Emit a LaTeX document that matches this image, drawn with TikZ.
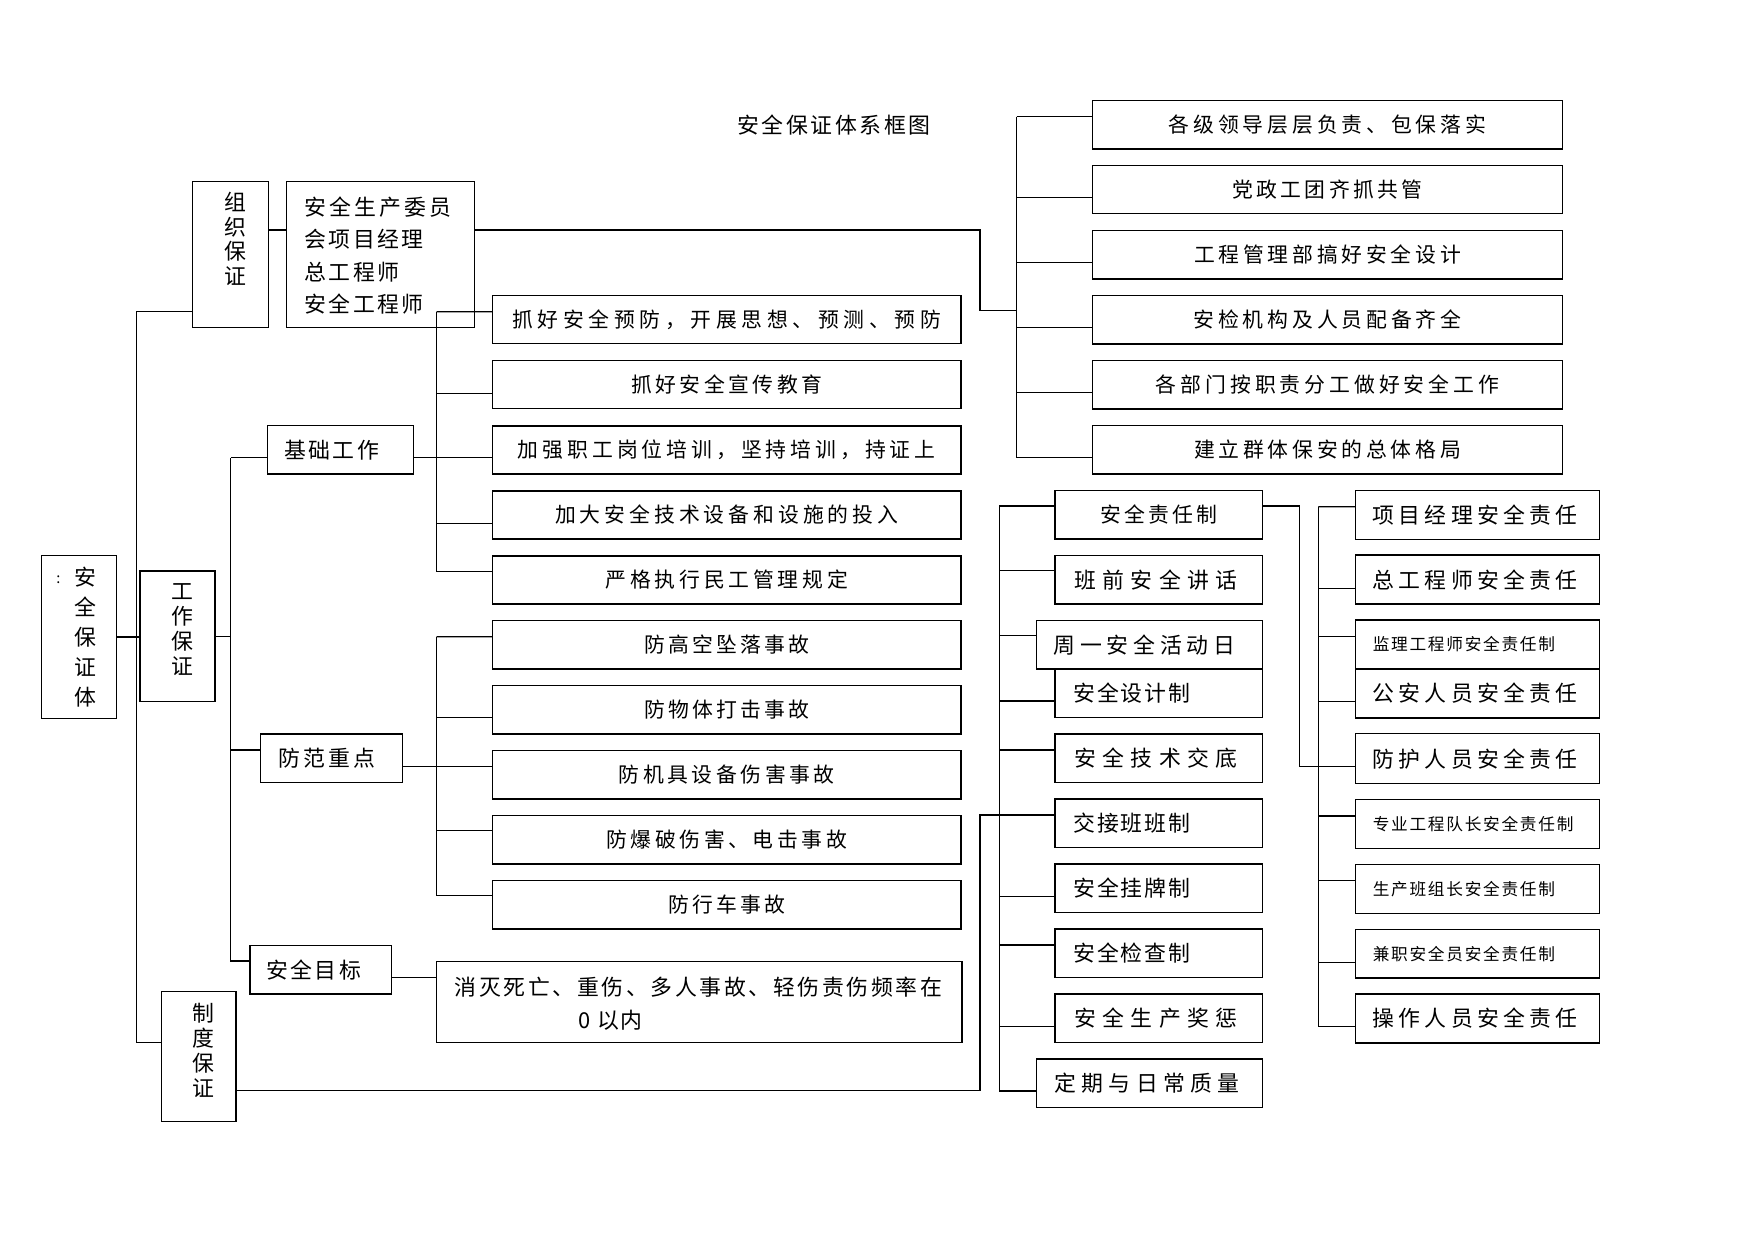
\documentclass[tikz,border=0pt]{standalone}
\usepackage{fontspec}
\setmainfont{Noto Sans CJK SC}
\newlength\pxu
\setlength\pxu{0.48pt}
\makeatletter
\newcommand\spaced[2]{\@tfor\spacedch:=#2\do{\makebox[#1\pxu][c]{\spacedch}}}
\makeatother
\tikzset{
  box/.style={draw, line width=0.75pt, inner sep=0pt},
  sz/.style 2 args={minimum width=#1*0.48pt, minimum height=#2*0.48pt},
  wire/.style={line width=0.55pt},
  txt/.style={inner sep=0pt, font=\fontsize{10.5}{12}\selectfont},
  small/.style={inner sep=0pt, font=\fontsize{8}{9}\selectfont},
  vtxt/.style={inner sep=0pt, align=center, font=\fontsize{10.5}{#1}\selectfont},
}
\begin{document}
\begin{tikzpicture}[x=0.48pt, y=-0.48pt]
\useasboundingbox (0,0) rectangle (1754,1241);
% title
\node[txt] (title) at (834,125) {\spaced{24.5}{安全保证体系框图}};
% left column
\node[box, sz={75}{162.6}] (aqbz) at (79.2,637) {};
\node[inner sep=0pt, font=\fontsize{7}{8}\selectfont] (aqbzc) at (58.3,580) {:};
\node[vtxt=14.4pt] (aqbzt) at (85,636.7) {安\\全\\保\\证\\体};
\node[box, sz={76}{146}] (zzbz) at (230.3,254.7) {};
\node[vtxt=11.76pt] (zzbzt) at (235.7,239) {组\\织\\保\\证};
\node[box, sz={187.6}{146}] (xmjl) at (380.5,254.7) {};
\node[txt, align=left, anchor=west, font=\fontsize{10.5}{15.55}\selectfont] (xmjlt) at (303,255.4)
  {\spaced{25}{安全生产委员}\\\spaced{24.3}{会项目经理}\\\spaced{24.3}{总工程师}\\\spaced{24.3}{安全工程师}};
\node[box, sz={75}{130.3}] (gzbz) at (177.5,636.15) {};
\node[vtxt=12pt] (gzbzt) at (182.3,629.2) {工\\作\\保\\证};
\node[box, sz={74.6}{130}] (zdbz) at (198.7,1056.7) {};
\node[vtxt=12pt] (zdbzt) at (203.3,1050.8) {制\\度\\保\\证};
\node[box, sz={146}{48.3}] (jcgz) at (340.3,449.85) {};
\node[txt, anchor=west] (jcgzt) at (283,449.85) {\spaced{24.2}{基础工作}};
\node[box, sz={141.6}{48.7}] (ffzd) at (331.5,758.35) {};
\node[txt, anchor=west] (ffzdt) at (276.5,758.35) {\spaced{25}{防范重点}};
\node[box, sz={141.8}{48.3}] (aqmb) at (320.7,969.85) {};
\node[txt, anchor=west] (aqmbt) at (264.5,969.85) {\spaced{24.4}{安全目标}};
\node[box, sz={525.5}{81}] (xmsw) at (699.25,1002.2) {};
\node[txt, align=left, anchor=west, font=\fontsize{10.5}{16}\selectfont] (xmswt) at (453,1003.4)
  {\spaced{24.5}{消灭死亡、重伤、多人事故、轻伤责伤频率在}\\\hspace*{60pt}0\hspace{3pt}\spaced{23}{以内}};
% middle column
\node[box, sz={468.4}{48}] (yf) at (726.8,319.5) {\spaced{25.5}{抓好安全预防，开展思想、预测、预防}};
\node[box, sz={468.4}{48}] (xc) at (726.8,384.5) {\spaced{24.3}{抓好安全宣传教育}};
\node[box, sz={468.4}{48}] (px) at (726.8,449.85) {\spaced{24.8}{加强职工岗位培训，坚持培训，持证上}};
\node[box, sz={468.4}{48}] (tr) at (726.8,514.85) {\spaced{24.8}{加大安全技术设备和设施的投入}};
\node[box, sz={468.4}{48}] (mg) at (726.8,579.85) {\spaced{24.6}{严格执行民工管理规定}};
\node[box, sz={468.4}{48.3}] (gk) at (726.8,644.85) {\spaced{24}{防高空坠落事故}};
\node[box, sz={468.4}{48.3}] (wt) at (726.8,709.85) {\spaced{24}{防物体打击事故}};
\node[box, sz={468.4}{48.3}] (jj) at (726.8,774.85) {\spaced{24.4}{防机具设备伤害事故}};
\node[box, sz={468.4}{48.3}] (bp) at (726.8,839.85) {\spaced{24.4}{防爆破伤害、电击事故}};
\node[box, sz={468.4}{48.3}] (xche) at (726.8,904.85) {\spaced{24}{防行车事故}};
% top right
\node[box, sz={469.6}{48.3}] (ld) at (1327.5,124.85) {\spaced{24.7}{各级领导层层负责、包保落实}};
\node[box, sz={469.6}{48.3}] (dz) at (1327.5,189.5) {\spaced{24.25}{党政工团齐抓共管}};
\node[box, sz={469.6}{48.3}] (gc) at (1327.5,254.85) {\spaced{24.6}{工程管理部搞好安全设计}};
\node[box, sz={469.6}{48.3}] (aj) at (1327.5,319.85) {\spaced{24.7}{安检机构及人员配备齐全}};
\node[box, sz={469.6}{48.3}] (bm) at (1327.5,384.85) {\spaced{24.8}{各部门按职责分工做好安全工作}};
\node[box, sz={469.6}{48.3}] (qt) at (1327.5,449.85) {\spaced{24.6}{建立群体保安的总体格局}};
% system column
\node[box, sz={207.3}{48.3}] (zrz) at (1158.65,514.85) {\spaced{24}{安全责任制}};
\node[box, sz={207.3}{48.3}] (bq) at (1158.65,579.85) {};
\node[txt, anchor=west] (bqt) at (1070.5,579.85) {\spaced{28.3}{班前安全讲话}};
\node[box, sz={225.6}{48.3}] (zy) at (1149.5,644.85) {};
\node[txt, anchor=west] (zyt) at (1050.5,644.85) {\spaced{26.7}{周一安全活动日}};
\node[box, sz={207.3}{48.7}] (sj) at (1158.65,693.35) {};
\node[txt, anchor=west] (sjt) at (1072,693.35) {\spaced{23.7}{安全设计制}};
\node[box, sz={207.3}{48.7}] (js) at (1158.65,758.35) {};
\node[txt, anchor=west] (jst) at (1070.5,758.35) {\spaced{28.3}{安全技术交底}};
\node[box, sz={207.3}{48.7}] (jjb) at (1158.65,823.35) {};
\node[txt, anchor=west] (jjbt) at (1072,823.35) {\spaced{23.7}{交接班班制}};
\node[box, sz={207.3}{48.7}] (gp) at (1158.65,888.35) {};
\node[txt, anchor=west] (gpt) at (1072,888.35) {\spaced{23.7}{安全挂牌制}};
\node[box, sz={207.3}{48.7}] (jcz) at (1158.65,953.35) {};
\node[txt, anchor=west] (jczt) at (1072,953.35) {\spaced{23.7}{安全检查制}};
\node[box, sz={207.3}{48.7}] (jcf) at (1158.65,1018.35) {};
\node[txt, anchor=west] (jcft) at (1070.5,1018.35) {\spaced{28.3}{安全生产奖惩}};
\node[box, sz={225.6}{48.7}] (dq) at (1149.5,1083.35) {};
\node[txt, anchor=west] (dqt) at (1051.5,1083.35) {\spaced{27.2}{定期与日常质量}};
% responsibility column
\node[box, sz={243.6}{48.9}] (rA) at (1477.5,514.85) {};
\node[txt, anchor=west] (rAt) at (1370.2,514.85) {\spaced{26.1}{项目经理安全责任}};
\node[box, sz={243.6}{48.8}] (rB) at (1477.5,579.6) {};
\node[txt, anchor=west] (rBt) at (1370.2,579.6) {\spaced{26.1}{总工程师安全责任}};
\node[box, sz={243.6}{48.9}] (rC) at (1477.5,644.45) {};
\node[small, anchor=west] (rCt) at (1371.5,644.45) {\spaced{18.4}{监理工程师安全责任制}};
\node[box, sz={243.6}{49.2}] (rD) at (1477.5,693.5) {};
\node[txt, anchor=west] (rDt) at (1370.2,693.5) {\spaced{26.1}{公安人员安全责任}};
\node[box, sz={243.6}{50}] (rE) at (1477.5,758.7) {};
\node[txt, anchor=west] (rEt) at (1370.2,758.7) {\spaced{26.1}{防护人员安全责任}};
\node[box, sz={243.6}{49.2}] (rF) at (1477.5,823.9) {};
\node[small, anchor=west] (rFt) at (1371.5,823.9) {\spaced{18.4}{专业工程队长安全责任制}};
\node[box, sz={243.6}{48.9}] (rG) at (1477.5,888.85) {};
\node[small, anchor=west] (rGt) at (1371.5,888.85) {\spaced{18.4}{生产班组长安全责任制}};
\node[box, sz={243.6}{48.8}] (rH) at (1477.5,953.7) {};
\node[small, anchor=west] (rHt) at (1371.5,953.7) {\spaced{18.4}{兼职安全员安全责任制}};
\node[box, sz={243.6}{49}] (rI) at (1477.5,1018.5) {};
\node[txt, anchor=west] (rIt) at (1370.2,1018.5) {\spaced{26.1}{操作人员安全责任}};
% bus points
\coordinate (busL) at (136.7,311.7);
\coordinate (busL1) at (230.8,457.85);
\coordinate (busM1) at (436.6,311.7);
\coordinate (busM2) at (436.6,636.7);
\coordinate (busTR) at (1016.7,116.85);
\coordinate (kTR) at (980,310.7);
\coordinate (kZD) at (980,815);
\coordinate (busMR) at (999.3,506);
\coordinate (kZR) at (1299.3,506);
\coordinate (busRR) at (1318.3,506.7);
% left trunk
\draw[wire] ([shift={(0,57)}]zzbz.west) -- (busL) |- ([shift={(0,-14)}]zdbz.west);
\draw[wire] (aqbz.east) -- (aqbz.east -| gzbz.west);
\draw[wire] ([shift={(0,-24.7)}]zzbz.east) -- ([shift={(0,-24.7)}]xmjl.west);
\draw[wire] ([shift={(0,-24.7)}]xmjl.east) -| (kTR) -- (kTR -| busTR);
% work branches
\draw[wire] (busL1) -- ([shift={(0,8)}]jcgz.west);
\draw[wire] (gzbz.east) -- (gzbz.east -| busL1);
\draw[wire] (busL1) |- ([shift={(0,-8.35)}]ffzd.west);
\draw[wire] (busL1) |- ([shift={(0,-8.85)}]aqmb.west);
\draw[wire] ([shift={(0,8)}]jcgz.east) -- ([shift={(0,8)}]px.west);
\draw[wire] ([shift={(0,8.35)}]ffzd.east) -- ([shift={(0,-8.15)}]jj.west);
\draw[wire] ([shift={(0,7.85)}]aqmb.east) -- ([shift={(0,7.85)}]aqmb.east -| xmsw.west);
% middle buses
\draw[wire] (busM1) -- ([shift={(0,-7.8)}]yf.west);
\draw[wire] (busM1) |- ([shift={(0,8.8)}]xc.west);
\draw[wire] (busM1) |- ([shift={(0,8.5)}]tr.west);
\draw[wire] (busM1) |- ([shift={(0,-8.5)}]mg.west);
\draw[wire] (busM2) -- ([shift={(0,-8.15)}]gk.west);
\draw[wire] (busM2) |- ([shift={(0,7.85)}]wt.west);
\draw[wire] (busM2) |- ([shift={(0,-9.15)}]bp.west);
\draw[wire] (busM2) |- ([shift={(0,-9.15)}]xche.west);
% top right bus
\draw[wire] (busTR) -- ([shift={(0,-8)}]ld.west);
\draw[wire] (busTR) |- ([shift={(0,8)}]dz.west);
\draw[wire] (busTR) |- ([shift={(0,8)}]gc.west);
\draw[wire] (busTR) |- ([shift={(0,8)}]aj.west);
\draw[wire] (busTR) |- ([shift={(0,8)}]bm.west);
\draw[wire] (busTR) |- ([shift={(0,8)}]qt.west);
% system bus
\draw[wire] ([shift={(0,34)}]zdbz.east) -| (kZD) -- ([shift={(0,-8.35)}]jjb.west);
\draw[wire] (busMR) -- ([shift={(0,-8.85)}]zrz.west);
\draw[wire] (busMR) |- ([shift={(0,-9.15)}]bq.west);
\draw[wire] (busMR) |- ([shift={(0,-9.15)}]zy.west);
\draw[wire] (busMR) |- ([shift={(0,7.65)}]sj.west);
\draw[wire] (busMR) |- ([shift={(0,-8.35)}]js.west);
\draw[wire] (busMR) |- ([shift={(0,8.35)}]gp.west);
\draw[wire] (busMR) |- ([shift={(0,-8.35)}]jcz.west);
\draw[wire] (busMR) |- ([shift={(0,8.35)}]jcf.west);
\draw[wire] (busMR) |- ([shift={(0,7.65)}]dq.west);
% responsibility bus
\draw[wire] ([shift={(0,-8.85)}]zrz.east) -- (kZR) |- ([shift={(0,7.6)}]rE.west);
\draw[wire] (busRR) -- ([shift={(0,-8.15)}]rA.west);
\draw[wire] (busRR) |- ([shift={(0,8.5)}]rB.west);
\draw[wire] (busRR) |- ([shift={(0,-8.15)}]rC.west);
\draw[wire] (busRR) |- ([shift={(0,8)}]rD.west);
\draw[wire] (busRR) |- ([shift={(0,-7.9)}]rF.west);
\draw[wire] (busRR) |- ([shift={(0,-8.15)}]rG.west);
\draw[wire] (busRR) |- ([shift={(0,8.5)}]rH.west);
\draw[wire] (busRR) |- ([shift={(0,7.8)}]rI.west);
\end{tikzpicture}
\end{document}
